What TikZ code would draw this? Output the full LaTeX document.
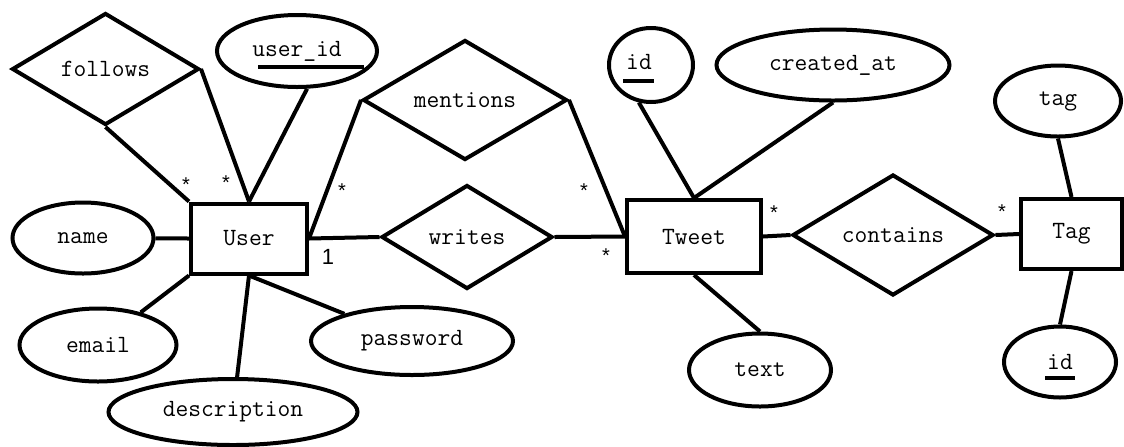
\documentclass[tikz,border=0pt]{standalone}
\usepackage{fontspec}
\setsansfont{Liberation Sans}
\usepackage{tikz}
\usetikzlibrary{shapes.geometric}

\begin{document}
\begin{tikzpicture}[
        x=0.5pt, y=-0.5pt,
        line width=2pt,
        entity/.style={rectangle, draw, minimum width=58pt, minimum height=35pt, inner sep=0pt, font=\fontsize{12.4}{14}\ttfamily},
        attr/.style={ellipse, draw, inner sep=0pt, font=\fontsize{12.4}{14}\ttfamily},
        rel/.style={diamond, draw, inner sep=0pt, aspect=1.7, font=\fontsize{12.4}{14}\ttfamily},
        card/.style={inner sep=0pt, font=\fontsize{10}{11}\sffamily},
        keyline/.style={line width=2pt}
    ]
        \useasboundingbox (0,0) rectangle (1124,446);

        % Entities
        \node[entity] (user) at (249,238.5) {User};
        \node[entity, minimum width=67pt, minimum height=36.5pt] (tweet) at (694,236.5) {Tweet};
        \node[entity, minimum width=50.5pt] (tag) at (1071.5,234) {Tag};

        % Relationships
        \node[rel, minimum width=93.5pt, minimum height=56pt] (follows) at (105.5,69) {follows};
        \node[rel, minimum width=102pt, minimum height=60pt] (mentions) at (465,100) {mentions};
        \node[rel, minimum width=85.5pt, minimum height=52pt] (writes) at (467,237) {writes};
        \node[rel, minimum width=100.5pt, minimum height=60.5pt] (contains) at (893,235) {contains};

        % User attributes
        \node[attr, minimum width=80pt, minimum height=36pt] (uid) at (297,51) {user\_id};
        \node[attr, minimum width=70.5pt, minimum height=35.5pt] (name) at (83,238) {name};
        \node[attr, minimum width=78.5pt, minimum height=36.5pt] (email) at (98,345) {email};
        \node[attr, minimum width=124.5pt, minimum height=33pt] (desc) at (233,412) {description};
        \node[attr, minimum width=101pt, minimum height=34pt] (pw) at (412,341) {password};

        % Tweet attributes
        \node[attr, minimum width=42pt, minimum height=37pt] (tid) at (651,65) {};
        \node[font=\fontsize{12.4}{14}\ttfamily, inner sep=0pt] (tidtext) at (639,62) {id};
        \node[attr, minimum width=116.5pt, minimum height=35.5pt] (cat) at (833,65) {created\_at};
        \node[attr, minimum width=71pt, minimum height=36.5pt] (text) at (760,370) {text};

        % Tag attributes
        \node[attr, minimum width=63pt, minimum height=35.5pt] (tagname) at (1058,101) {tag};
        \node[attr, minimum width=56pt, minimum height=35.5pt] (tagid) at (1060,362) {id};

        % Key underlines
        \draw[keyline] ([shift={(-39,16)}]uid.center) -- ++(106,0);
        \draw[keyline] ([shift={(-28,16)}]tid.center) -- ++(31,0);
        \draw[keyline] ([shift={(-15,16)}]tagid.center) -- ++(30,0);

        % Attribute lines
        \draw (uid.-75) -- (user.north);
        \draw (name) -- (user.west);
        \draw (email) -- (user.south west);
        \draw (desc) -- (user.south);
        \draw (pw) -- (user.south);
        \draw (tid.-108) -- (tweet.north);
        \draw (cat.south) -- (tweet.north);
        \draw (text.north) -- (tweet.south);
        \draw (tagname.south) -- (tag.north);
        \draw (tagid.north) -- (tag.south);

        % Relationship lines
        \draw (follows.south) -- (user.north west);
        \draw (follows.east) -- (user.north);
        \draw (mentions.west) -- (user.east);
        \draw (mentions.east) -- (tweet.west);
        \draw (user.east) -- (writes.west);
        \draw (writes.east) -- (tweet.west);
        \draw (tweet.east) -- (contains.west);
        \draw (contains.east) -- (tag.west);

        % Cardinalities
        \node[card] (c1) at (186,185) {*};
        \node[card] (c2) at (226,183) {*};
        \node[card] (c3) at (342,191) {*};
        \node[card] (c4) at (584,191) {*};
        \node[card] (c5) at (606,256) {*};
        \node[card] (c6) at (774,213) {*};
        \node[card] (c7) at (1002,212) {*};
        \node[card, font=\fontsize{11}{12}\sffamily] (c8) at (328,257) {1};
    \end{tikzpicture}
\end{document}
